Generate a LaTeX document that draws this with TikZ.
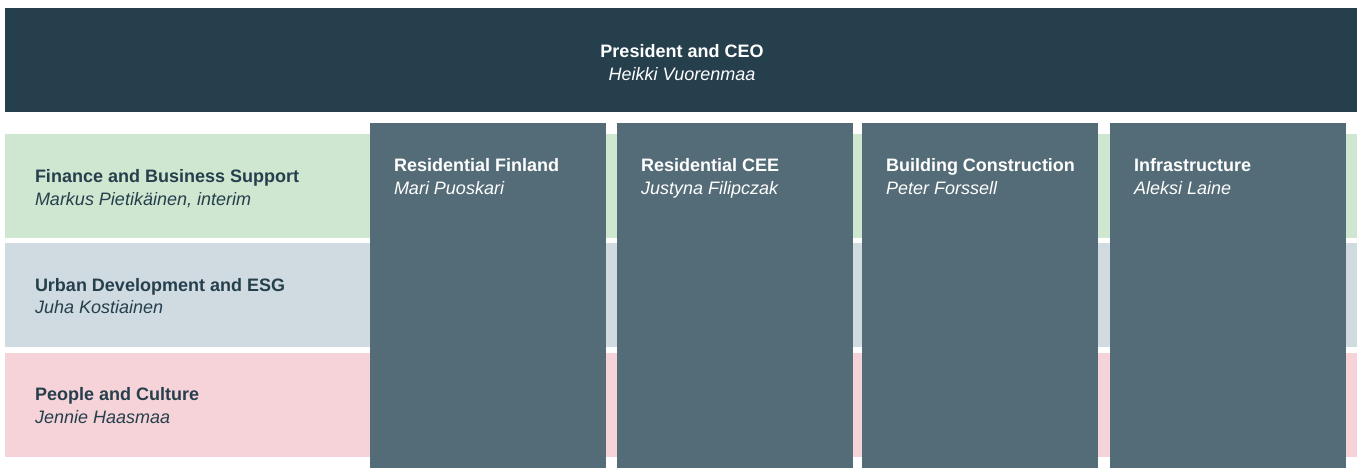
\documentclass[tikz,border=0pt]{standalone}
\usepackage{fontspec}
\setmainfont{Liberation Sans}
\definecolor{topbar}{HTML}{263F4D}
\definecolor{colbox}{HTML}{546C77}
\definecolor{bandgreen}{HTML}{CFE6D0}
\definecolor{bandblue}{HTML}{CFDAE1}
\definecolor{bandpink}{HTML}{F5D3D9}
\definecolor{darktext}{HTML}{263F4D}
\newcommand{\twolines}[2]{\strut\textbf{#1}\\\strut\textit{#2}}
\tikzset{
  lbl/.style={inner sep=0pt,outer sep=0pt,align=left,font=\fontsize{18}{22.5}\selectfont},
  lightlbl/.style={lbl,text=white},
  darklbl/.style={lbl,text=darktext},
}
\begin{document}
\begin{tikzpicture}[x=1pt,y=-1pt]
\useasboundingbox (0,0) rectangle (1362,475);
\fill[white] (0,0) rectangle (1362,475);
% top bar
\fill[topbar] (5,8) rectangle (1357,112);
\node[lightlbl,align=center] (ceotext) at (682,64.5) {\twolines{President and CEO}{Heikki Vuorenmaa}};
% bands
\fill[bandgreen] (5,134) rectangle (1357,238);
\fill[bandblue] (5,243) rectangle (1357,347);
\fill[bandpink] (5,353) rectangle (1357,457);
\node[darklbl,anchor=west] (fin) at (35,189.5) {\twolines{Finance and Business Support}{Markus Pietikäinen, interim}};
\node[darklbl,anchor=west] (urb) at (35,298) {\twolines{Urban Development and ESG}{Juha Kostiainen}};
\node[darklbl,anchor=west] (ppl) at (35,407.5) {\twolines{People and Culture}{Jennie Haasmaa}};
% columns
\fill[colbox] (370,123) rectangle (606,468);
\fill[colbox] (617,123) rectangle (853,468);
\fill[colbox] (862,123) rectangle (1098,468);
\fill[colbox] (1110,123) rectangle (1346,468);
\node[lightlbl,anchor=west] (resfi) at (394,178.5) {\twolines{Residential Finland}{Mari Puoskari}};
\node[lightlbl,anchor=west] (rescee) at (641,178.5) {\twolines{Residential CEE}{Justyna Filipczak}};
\node[lightlbl,anchor=west] (bldg) at (886,178.5) {\twolines{Building Construction}{Peter Forssell}};
\node[lightlbl,anchor=west] (infra) at (1134,178.5) {\twolines{Infrastructure}{Aleksi Laine}};
\end{tikzpicture}
\end{document}
